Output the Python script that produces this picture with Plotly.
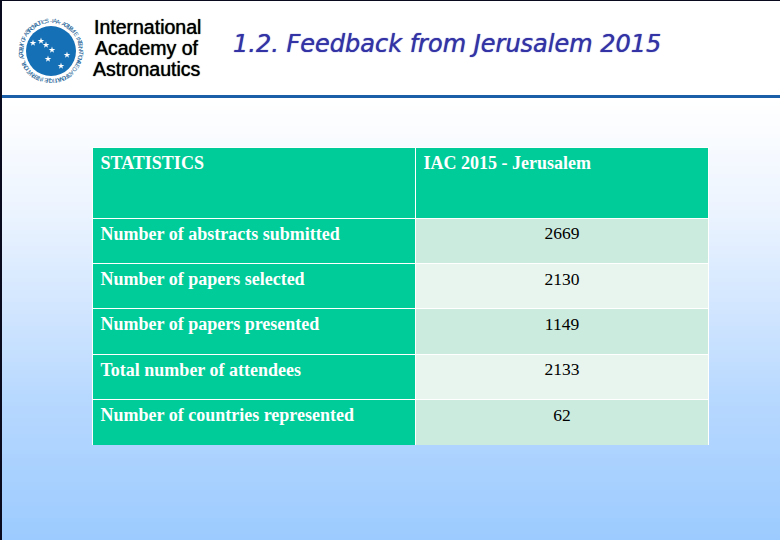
import math
import plotly.graph_objects as go

# table contents
header_labels = ['STATISTICS', 'IAC 2015 - Jerusalem']
stat_names = ['Number of abstracts submitted', 'Number of papers selected', 'Number of papers presented',
              'Total number of attendees', 'Number of countries represented']
stat_values = [2669, 2130, 1149, 2133, 62]

logo_lines = ['International', 'Academy of', 'Astronautics']
logo_y = [27, 48, 69]
ring_text = '-IAA- ACADEMIE INTERNATIONALE D ASTRONAUTIQUE INTERNATIONAL ACADEMY OF ASTRONAUTICS '
star_x = [33, 41, 46, 52, 67, 48, 61]
star_y = [43, 41, 45, 50, 55, 59, 66]

W, H = 780, 540
GREEN = '#00CC99'
ROW_DARK = '#CCEBDF'
ROW_LIGHT = '#E7F5EE'

fig = go.Figure()

# page background, white at the top fading to blue at the bottom
bg_y = [0, 100, 200, 300, 400, 540]
bg_colors = ['#FFFFFF', '#FFFFFF', '#EEF5FF', '#D4E7FF', '#B7D8FF', '#9CCBFF']
fig.add_trace(go.Heatmap(x=[0, W], y=list(range(0, H + 1, 4)), z=[[v, v] for v in range(0, H + 1, 4)],
                         colorscale=[[y / H, c] for y, c in zip(bg_y, bg_colors)],
                         zmin=0, zmax=H, showscale=False, hoverinfo='skip'))

# logo disc and its stars
fig.add_trace(go.Scatter(x=[51], y=[51], mode='markers', hoverinfo='skip',
                         marker=dict(size=50, color='#1670B5', line_width=0)))
fig.add_trace(go.Scatter(x=star_x, y=star_y, mode='markers', hoverinfo='skip',
                         marker=dict(symbol='star', size=5, color='white', line_width=0)))

row_fill = [ROW_DARK, ROW_LIGHT, ROW_DARK, ROW_LIGHT, ROW_DARK]
fig.add_trace(go.Table(
    domain=dict(x=[92.5 / W, 708.5 / W], y=[(H - 445) / H, (H - 147) / H]),
    columnwidth=[323, 293],
    header=dict(values=header_labels, height=71, align='left', fill_color=GREEN,
                line=dict(color='white', width=1),
                font=dict(family='Liberation Serif', size=18, color='white', weight=700)),
    cells=dict(values=[stat_names, stat_values], height=45.4, align=['left', 'center'],
               fill_color=[[GREEN] * 5, row_fill],
               line=dict(color='white', width=1),
               font=dict(family='Liberation Serif', size=[18, 17.5], color=['white', 'black'], weight=[700, 400]))))

fig.add_shape(type='rect', x0=0, x1=W, y0=95, y1=98, fillcolor='#1A5FA8', line_width=0)
fig.add_shape(type='rect', x0=0, x1=2, y0=0, y1=H, fillcolor='#0A0A1E', line_width=0)
fig.add_shape(type='rect', x0=0, x1=W, y0=0, y1=1, fillcolor='#0A0A1E', line_width=0)

for txt, y in zip(logo_lines, logo_y):
    fig.add_annotation(x=147, y=y, text=txt, showarrow=False,
                       font=dict(family='Liberation Sans', size=19.5, color='black', shadow='0 0 1px #000000'))

fig.add_annotation(x=231, y=44, xanchor='left', text='<i>1.2. Feedback from Jerusalem 2015</i>', showarrow=False,
                   font=dict(family='DejaVu Sans', size=24, color='#3333A6', shadow='0 0 1px #3333A6'))

# lettering round the logo
for i, ch in enumerate(ring_text):
    a = 2 * math.pi * i / len(ring_text)
    fig.add_annotation(x=51 + 30 * math.sin(a), y=51 - 30 * math.cos(a), text=ch, showarrow=False,
                       textangle=math.degrees(a), font=dict(family='Liberation Sans', size=6, color='#1C5F96'))

fig.update_xaxes(range=[0, W], visible=False, fixedrange=True)
fig.update_yaxes(range=[H, 0], visible=False, fixedrange=True)
fig.update_layout(width=W, height=H, margin=dict(l=0, r=0, t=0, b=0), showlegend=False, paper_bgcolor='white')
fig.write_html("out.html", config={'displayModeBar': False}, post_script="document.body.style.margin='0';")
